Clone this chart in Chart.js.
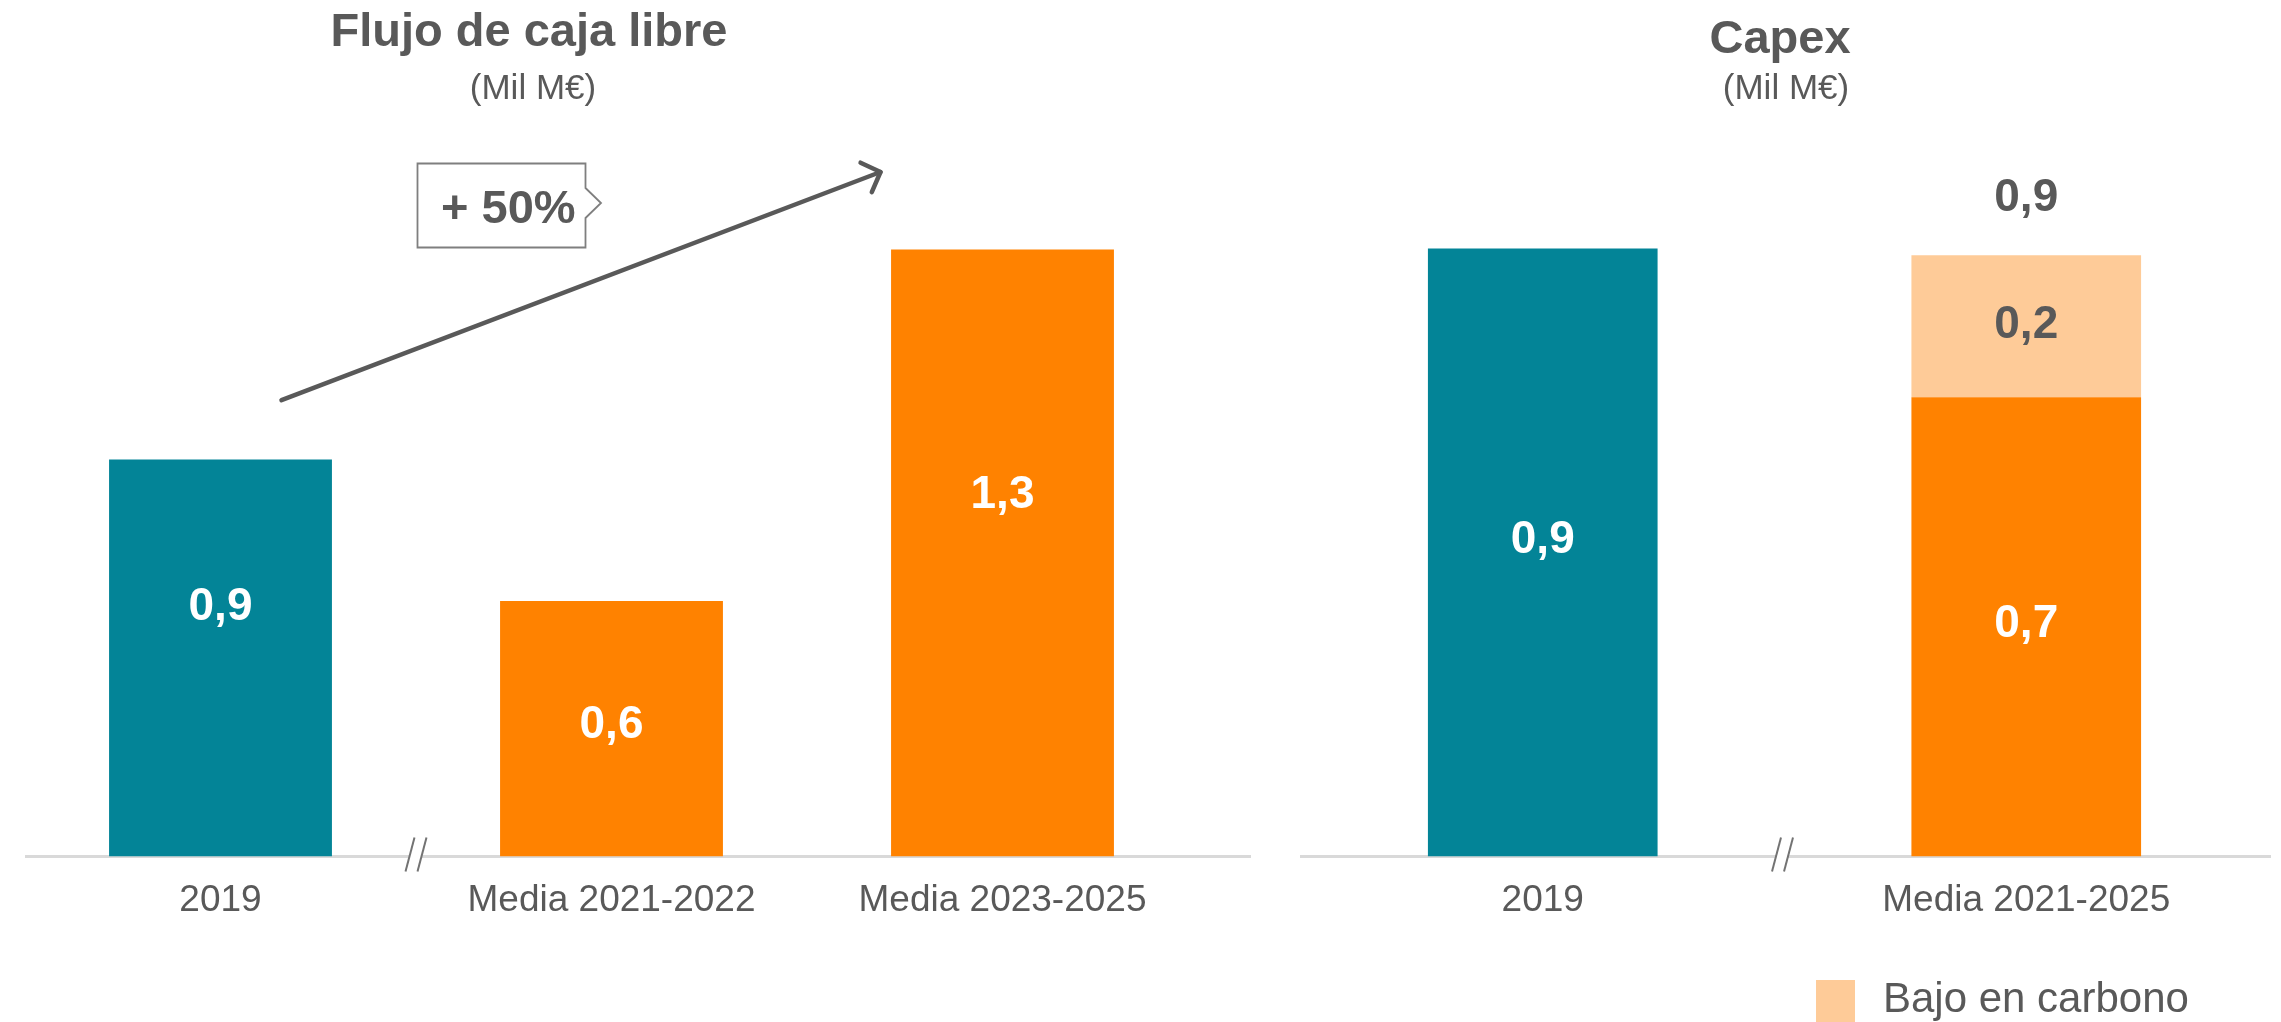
<!DOCTYPE html>
<html><head><meta charset="utf-8">
<script src="https://cdn.jsdelivr.net/npm/chart.js@4.4.1/dist/chart.umd.min.js"></script>
<style>
html,body{margin:0;padding:0;background:#fff;}
#wrap{position:relative;width:2281px;height:1022px;overflow:hidden;font-family:"Liberation Sans",Arial,sans-serif;color:#595959;background:#fff;}
.t{position:absolute;white-space:nowrap;line-height:1;}
canvas{position:absolute;top:0;}
svg{position:absolute;left:0;top:0;}
</style></head><body>
<div id="wrap">
  <canvas id="c1" width="1260" height="1022" style="left:0;width:1260px;height:1022px"></canvas>
  <canvas id="c2" width="1011" height="1022" style="left:1270px;width:1011px;height:1022px"></canvas>
  <svg width="2281" height="1022"><path d="M417.5,163.5 H585.5 V188 L601,203 L585.5,218 V247.5 H417.5 Z" fill="#fff" stroke="#7f7f7f" stroke-width="1.8"/></svg>
  <div class="t" style="left:229px;width:600px;text-align:center;top:6px;font-size:47px;font-weight:bold">Flujo de caja libre</div>
  <div class="t" style="left:233px;width:600px;text-align:center;top:69px;font-size:35px">(Mil M€)</div>
  <div class="t" style="left:1480px;width:600px;text-align:center;top:13px;font-size:47px;font-weight:bold">Capex</div>
  <div class="t" style="left:1486px;width:600px;text-align:center;top:69px;font-size:35px">(Mil M€)</div>
  <div class="t" style="left:441px;top:183px;font-size:47px;font-weight:bold">+ 50%</div>
  <div style="position:absolute;left:1816px;top:980px;width:39px;height:42px;background:#FECB98"></div>
  <div class="t" style="left:1883px;top:977px;font-size:42px">Bajo en carbono</div>
</div>
<script>
// ---- data ----
const fcfCategories = ['2019', 'Media 2021-2022', 'Media 2023-2025'];
const fcfValues = [0.87, 0.56, 1.33];
const capexCategories = ['2019', 'Media 2021-2025'];
const capexBase = [0.90, 0.68];
const capexLowCarbon = [null, 0.21];
const capexLegendLabel = 'Bajo en carbono';

// ---- styles ----
const TEAL = '#038497', ORANGE = '#FF8200', LIGHT = '#FECB98', GREY = '#595959';
const fcfColors = [TEAL, ORANGE, ORANGE];
const capexBaseColors = [TEAL, ORANGE];
const fcfLabelPos = [0.627, 0.512, 0.596];
const capexLabelPos = [[0.52, 0.505], [0.5, 0.507]];
const fcfLabelColors = ['#fff'];
const capexLabelColors = ['#fff', GREY];
const FONT = '"Liberation Sans", Arial, sans-serif';

const fmt = v => v.toFixed(1).replace('.', ',');

function baselinePlugin(ext) {
  return {
    id: 'baseline',
    beforeDatasetsDraw(chart) {
      const ca = chart.chartArea, ctx = chart.ctx;
      const x = chart.scales.x;
      ctx.save();
      ctx.strokeStyle = '#D9D9D9';
      ctx.lineWidth = 3;
      ctx.beginPath();
      ctx.moveTo(ca.left + ext[0], ca.bottom);
      ctx.lineTo(ca.right + ext[1], ca.bottom);
      ctx.stroke();
      const cw = (x.getPixelForValue(1) - x.getPixelForValue(0));
      const cx = x.getPixelForValue(0) + cw / 2 + ext[2];
      const yT = ca.bottom - 19, yB = ca.bottom + 15;
      ctx.fillStyle = '#fff';
      ctx.beginPath();
      ctx.moveTo(cx - 6 + 4.5, yT); ctx.lineTo(cx + 6 + 4.5, yT);
      ctx.lineTo(cx + 6 - 4.5, yB); ctx.lineTo(cx - 6 - 4.5, yB); ctx.closePath();
      ctx.fill();
      ctx.strokeStyle = '#737373';
      ctx.lineWidth = 2;
      [-6, 6].forEach(o => {
        ctx.beginPath();
        ctx.moveTo(cx + o + 4.5, yT);
        ctx.lineTo(cx + o - 4.5, yB);
        ctx.stroke();
      });
      ctx.restore();
    }
  };
}

function labelPlugin(posTable, colors, showTotal) {
  return {
    id: 'labels',
    afterDatasetsDraw(chart) {
      const ctx = chart.ctx;
      ctx.save();
      ctx.font = 'bold 46px ' + FONT;
      ctx.textAlign = 'center';
      ctx.textBaseline = 'middle';
      const tops = {};
      chart.data.datasets.forEach((ds, di) => {
        const meta = chart.getDatasetMeta(di);
        meta.data.forEach((bar, i) => {
          const v = ds.data[i];
          if (v == null) return;
          const f = posTable[di][i];
          const y = bar.base - f * (bar.base - bar.y);
          ctx.fillStyle = colors[di];
          ctx.fillText(fmt(v), bar.x, y);
          const t = tops[i] || (tops[i] = {y: Infinity, x: bar.x, n: 0, sum: 0});
          t.n++; t.sum += v; if (bar.y < t.y) t.y = bar.y;
        });
      });
      if (showTotal) {
        ctx.fillStyle = GREY;
        Object.values(tops).forEach(t => {
          if (t.n > 1) ctx.fillText(fmt(t.sum), t.x, t.y - 57);
        });
      }
      ctx.restore();
    }
  };
}

const arrowPlugin = {
  id: 'arrow',
  afterDatasetsDraw(chart) {
    const x = chart.scales.x, y = chart.scales.y, ctx = chart.ctx;
    const cw = x.getPixelForValue(1) - x.getPixelForValue(0);
    const x0 = x.getPixelForValue(0) + 0.156 * cw, y0 = y.getPixelForValue(1.0);
    const x1 = x.getPixelForValue(2) - 0.312 * cw, y1 = y.getPixelForValue(1.5);
    const a = Math.atan2(y1 - y0, x1 - x0);
    ctx.save();
    ctx.strokeStyle = GREY;
    ctx.lineWidth = 4.5;
    ctx.lineCap = 'round';
    ctx.lineJoin = 'round';
    ctx.beginPath();
    ctx.moveTo(x0, y0); ctx.lineTo(x1, y1); ctx.stroke();
    const L = 22;
    ctx.beginPath();
    ctx.moveTo(x1 + L * Math.cos(a + Math.PI - 0.8), y1 + L * Math.sin(a + Math.PI - 0.8));
    ctx.lineTo(x1, y1);
    ctx.lineTo(x1 + L * Math.cos(a + Math.PI + 0.8), y1 + L * Math.sin(a + Math.PI + 0.8));
    ctx.stroke();
    ctx.restore();
  }
};

function xScale() {
  return {
    grid: {display: false},
    border: {display: false},
    ticks: {color: GREY, font: {family: FONT, size: 37}, padding: 14, maxRotation: 0, autoSkip: false}
  };
}

new Chart(document.getElementById('c1'), {
  type: 'bar',
  data: {
    labels: fcfCategories,
    datasets: [{data: fcfValues, backgroundColor: fcfColors, barPercentage: 0.57, categoryPercentage: 1}]
  },
  options: {
    responsive: false, animation: false,
    layout: {padding: {left: 25, right: 62, top: 172, bottom: 85}},
    plugins: {legend: {display: false}, tooltip: {enabled: false}},
    scales: {x: xScale(), y: {display: false, min: 0, max: 1.5}}
  },
  plugins: [baselinePlugin([0, 53, 0]), labelPlugin([fcfLabelPos], fcfLabelColors, false), arrowPlugin]
});

new Chart(document.getElementById('c2'), {
  type: 'bar',
  data: {
    labels: capexCategories,
    datasets: [
      {label: 'Base', data: capexBase, backgroundColor: capexBaseColors, barPercentage: 0.475, categoryPercentage: 1},
      {label: capexLegendLabel, data: capexLowCarbon, backgroundColor: LIGHT, barPercentage: 0.475, categoryPercentage: 1}
    ]
  },
  options: {
    responsive: false, animation: false,
    layout: {padding: {left: 31, right: 13, top: 181, bottom: 85}},
    plugins: {legend: {display: false}, tooltip: {enabled: false}},
    scales: {x: Object.assign(xScale(), {stacked: true}), y: {display: false, stacked: true, min: 0, max: 1.0}}
  },
  plugins: [baselinePlugin([-1, 3, -2]), labelPlugin(capexLabelPos, capexLabelColors, true)]
});
</script>
</body></html>
